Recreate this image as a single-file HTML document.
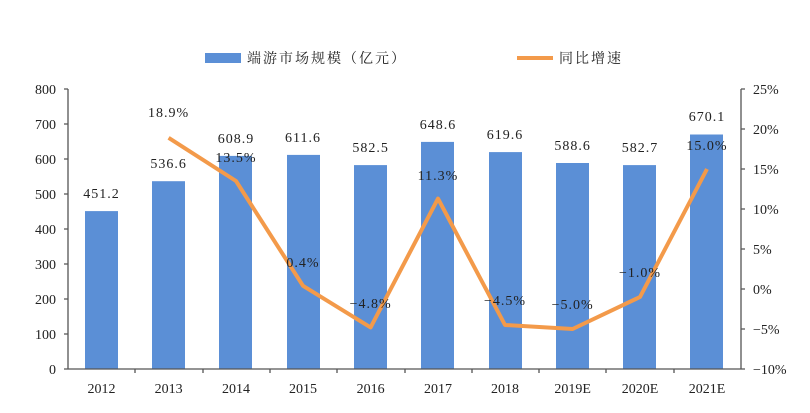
<!DOCTYPE html>
<html><head><meta charset="utf-8"><style>body{margin:0;background:#fff}svg{display:block}text{font-family:"Liberation Serif","Noto Serif CJK SC",serif;fill:#222}</style></head>
<body>
<svg width="810" height="413" viewBox="0 0 810 413" xmlns="http://www.w3.org/2000/svg">
<rect x="205" y="53" width="36" height="10" fill="#5b8fd6"/>
<text x="247" y="63" font-size="14" letter-spacing="2">端游市场规模（亿元）</text>
<line x1="517" y1="58" x2="553" y2="58" stroke="#f39a4a" stroke-width="4"/>
<text x="559" y="63" font-size="14" letter-spacing="2">同比增速</text>
<g fill="#5b8fd6">
<rect x="85" y="211.1" width="33" height="157.9"/>
<rect x="152" y="181.2" width="33" height="187.8"/>
<rect x="219" y="155.9" width="33" height="213.1"/>
<rect x="287" y="154.9" width="33" height="214.1"/>
<rect x="354" y="165.1" width="33" height="203.9"/>
<rect x="421" y="141.9" width="33" height="227.1"/>
<rect x="489" y="152.1" width="33" height="216.9"/>
<rect x="556" y="163.0" width="33" height="206.0"/>
<rect x="623" y="165.1" width="33" height="203.9"/>
<rect x="690" y="134.5" width="33" height="234.5"/>
</g>
<g stroke="#555" stroke-width="1.3" fill="none">
<line x1="68" y1="89" x2="68" y2="369"/>
<line x1="741" y1="89" x2="741" y2="369"/>
<line x1="64" y1="369" x2="745" y2="369"/>
<path d="M64 89H68M64 124H68M64 159H68M64 194H68M64 229H68M64 264H68M64 299H68M64 334H68"/>
<path d="M741 89H745M741 129H745M741 169H745M741 209H745M741 249H745M741 289H745M741 329H745"/>
<path d="M135 369V373M203 369V373M270 369V373M337 369V373M405 369V373M472 369V373M539 369V373M606 369V373M674 369V373"/>
</g>
<polyline fill="none" stroke="#f39a4a" stroke-width="4" stroke-linejoin="round" points="168.6,137.8 236,181 303,285.8 370.6,327.4 438,198.6 505,325 572.6,329 640,297 707,169"/>
<g font-size="14" text-anchor="end">
<text x="56" y="94">800</text><text x="56" y="129">700</text><text x="56" y="164">600</text><text x="56" y="199">500</text><text x="56" y="234">400</text><text x="56" y="269">300</text><text x="56" y="304">200</text><text x="56" y="339">100</text><text x="56" y="374">0</text>
</g>
<g font-size="14" text-anchor="start">
<text x="753" y="94">25%</text><text x="753" y="134">20%</text><text x="753" y="174">15%</text><text x="753" y="214">10%</text><text x="753" y="254">5%</text><text x="753" y="294">0%</text><text x="753" y="334">−5%</text><text x="753" y="374">−10%</text>
</g>
<g font-size="14" text-anchor="middle">
<text x="101.5" y="393">2012</text><text x="168.6" y="393">2013</text><text x="236" y="393">2014</text><text x="303" y="393">2015</text><text x="370.6" y="393">2016</text><text x="438" y="393">2017</text><text x="505" y="393">2018</text><text x="572.6" y="393">2019E</text><text x="640" y="393">2020E</text><text x="707" y="393">2021E</text>
</g>
<g font-size="14" text-anchor="middle" letter-spacing="1">
<text x="101.5" y="198">451.2</text><text x="168.6" y="168">536.6</text><text x="236" y="143">608.9</text><text x="303" y="142">611.6</text><text x="370.6" y="152">582.5</text><text x="438" y="129">648.6</text><text x="505" y="139">619.6</text><text x="572.6" y="150">588.6</text><text x="640" y="152">582.7</text><text x="707" y="121">670.1</text>
<text x="168.6" y="117">18.9%</text><text x="236" y="162">13.5%</text><text x="303" y="267">0.4%</text><text x="370.6" y="308">−4.8%</text><text x="438" y="180">11.3%</text><text x="505" y="305">−4.5%</text><text x="572.6" y="309">−5.0%</text><text x="640" y="277">−1.0%</text><text x="707" y="150">15.0%</text>
</g>
</svg>
</body></html>
